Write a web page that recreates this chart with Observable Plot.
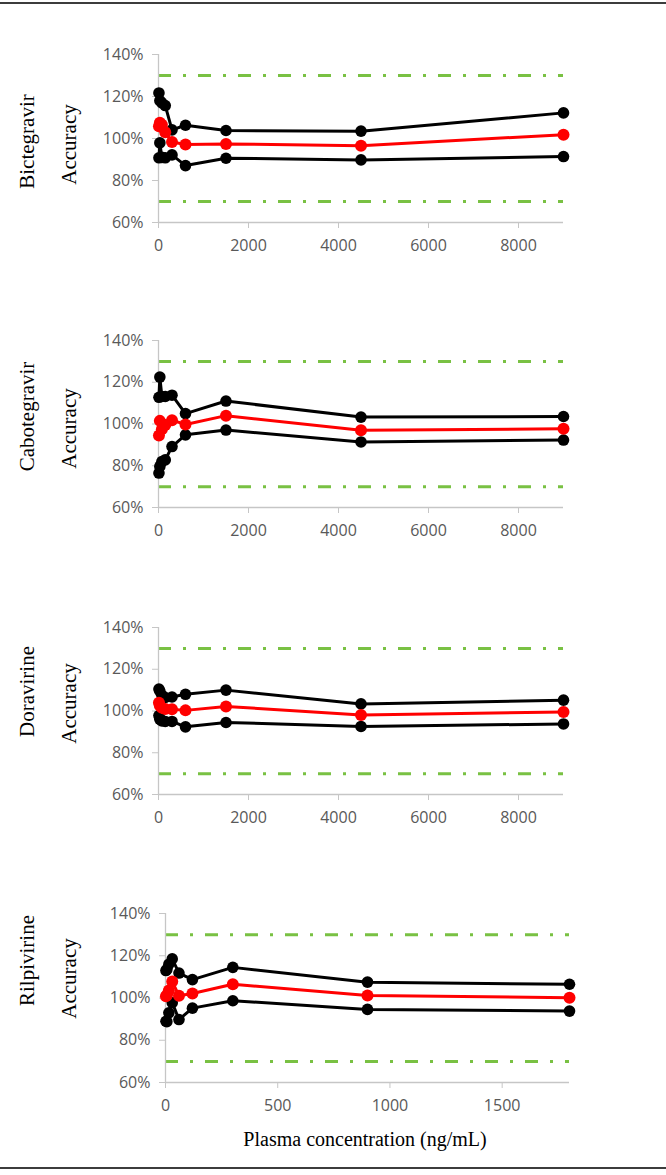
<!DOCTYPE html>
<html>
<head>
<meta charset="utf-8">
<script src="https://cdn.jsdelivr.net/npm/d3@7"></script>
<script src="https://cdn.jsdelivr.net/npm/@observablehq/plot@0.6"></script>
<style>
  html, body { margin: 0; padding: 0; background: #fff; }
  #wrap { position: relative; width: 666px; height: 1175px; overflow: hidden; background: #fff; }
  .panel { position: absolute; left: 0; }
  .panel svg { overflow: visible; }
  .rule { position: absolute; left: 0; width: 666px; height: 2px; background: #3c3c3c; }
  #xtitle { position: absolute; top: 1128px; left: 365px; transform: translateX(-50%); white-space: nowrap;
            font-family: "Liberation Serif", "Times New Roman", serif; font-size: 20px; color: #000; }
</style>
</head>
<body>
<div id="wrap">
  <div class="rule" style="top:2px"></div>
  <div id="xtitle">Plasma concentration (ng/mL)</div>
  <div class="rule" style="top:1167px"></div>
</div>
<script>
// ---- data ----
const drugNames = ["Bictegravir", "Cabotegravir", "Doravirine", "Rilpivirine"];
const yLabel = "Accuracy";
const xTitle = "Plasma concentration (ng/mL)";
const concStd = [10, 30, 75, 150, 300, 600, 1500, 4500, 9000];      // ng/mL (BIC, CAB, DOR)
const concRpv = [2, 6, 15, 30, 60, 120, 300, 900, 1800];            // ng/mL (RPV)

const bicMax  = [121.7, 118.0, 117.0, 115.7, 104.1, 106.3, 103.8, 103.5, 112.2];
const bicMean = [105.8, 107.5, 106.5, 103.0, 98.3, 97.1, 97.4, 96.6, 101.8];
const bicMin  = [90.8, 97.9, 91.0, 90.8, 92.2, 87.1, 90.6, 89.8, 91.4];

const cabMax  = [112.8, 122.5, 113.2, 113.2, 113.8, 105.0, 111.0, 103.3, 103.6];
const cabMean = [94.5, 101.5, 97.5, 99.5, 101.8, 99.8, 104.0, 97.0, 97.7];
const cabMin  = [76.5, 79.7, 82.0, 82.8, 89.2, 94.8, 97.1, 91.4, 92.3];

const dorMax  = [110.5, 109.5, 107.5, 106.5, 106.7, 108.0, 110.0, 103.4, 105.2];
const dorMean = [104.0, 102.5, 101.5, 101.0, 100.8, 100.3, 102.2, 98.1, 99.5];
const dorMin  = [97.8, 96.0, 95.2, 95.0, 95.0, 92.4, 94.5, 92.6, 93.8];

const rpvMax  = [113.0, 113.5, 116.0, 118.5, 111.8, 108.7, 114.5, 107.5, 106.5];
const rpvMean = [100.8, 101.3, 103.5, 107.8, 101.1, 102.1, 106.5, 101.2, 100.1];
const rpvMin  = [89.0, 88.8, 93.0, 97.8, 89.8, 95.2, 98.7, 94.6, 93.8];

const limits = [70, 130];                 // acceptance limits (%)
const yTicks = [60, 80, 100, 120, 140];   // %
const xTicksStd = [0, 2000, 4000, 6000, 8000];
const xTicksRpv = [0, 500, 1000, 1500];

// ---- layout ----
const panels = [
  {name: drugNames[0], conc: concStd, max: bicMax, mean: bicMean, min: bicMin, xMax: 9000, xTicks: xTicksStd,
   top: 40, span: 168, ml: 158, mr: 103, nameY: 141, accY: 144},
  {name: drugNames[1], conc: concStd, max: cabMax, mean: cabMean, min: cabMin, xMax: 9000, xTicks: xTicksStd,
   top: 326, span: 167, ml: 158, mr: 103, nameY: 416, accY: 428},
  {name: drugNames[2], conc: concStd, max: dorMax, mean: dorMean, min: dorMin, xMax: 9000, xTicks: xTicksStd,
   top: 613, span: 167, ml: 158, mr: 103, nameY: 691, accY: 703},
  {name: drugNames[3], conc: concRpv, max: rpvMax, mean: rpvMean, min: rpvMin, xMax: 1800, xTicks: xTicksRpv,
   top: 899, span: 169, ml: 165, mr: 97, nameY: 960, accY: 978}
];

const MT = 14, MB = 40;
const axisGray = "#c6c6c6", labelGray = "#595959", green = "#79c143";

function series(conc, vals) { return conc.map((c, i) => ({c, v: vals[i]})); }

const wrap = document.getElementById("wrap");
for (const p of panels) {
  const frameMid = p.top + MT + p.span / 2;
  const serifText = {frameAnchor: "left", textAnchor: "middle", rotate: -90,
                     fontFamily: "Liberation Serif, Times New Roman, serif",
                     fontSize: 21, fill: "#000", text: d => d};
  const chart = Plot.plot({
    width: 666, height: MT + p.span + MB,
    marginTop: MT, marginBottom: MB, marginLeft: p.ml, marginRight: p.mr,
    style: {background: "transparent", fontFamily: "Open Sans, Liberation Sans, sans-serif", fontSize: "16px", color: labelGray, overflow: "visible"},
    x: {domain: [0, p.xMax], label: null},
    y: {domain: [60, 140], label: null},
    marks: [
      Plot.ruleY(limits, {stroke: green, strokeWidth: 3, strokeDasharray: "13,12,3,12"}),
      Plot.ruleX([0], {stroke: axisGray, strokeWidth: 1.3}),
      Plot.ruleY([60], {stroke: axisGray, strokeWidth: 1.3}),
      Plot.axisY({ticks: yTicks, tickSize: 6, tickPadding: 9, stroke: axisGray, fill: labelGray,
                  tickFormat: d => d + "%", label: null}),
      Plot.axisX({ticks: p.xTicks, tickSize: 6, tickPadding: 11, stroke: axisGray, fill: labelGray,
                  tickFormat: d => String(d), label: null}),
      Plot.line(series(p.conc, p.max), {x: "c", y: "v", stroke: "#000", strokeWidth: 3}),
      Plot.dot(series(p.conc, p.max), {x: "c", y: "v", r: 5.8, fill: "#000"}),
      Plot.line(series(p.conc, p.min), {x: "c", y: "v", stroke: "#000", strokeWidth: 3}),
      Plot.dot(series(p.conc, p.min), {x: "c", y: "v", r: 5.8, fill: "#000"}),
      Plot.line(series(p.conc, p.mean), {x: "c", y: "v", stroke: "#ff0000", strokeWidth: 3}),
      Plot.dot(series(p.conc, p.mean), {x: "c", y: "v", r: 6, fill: "#ff0000"}),
      Plot.text([p.name], {...serifText, dx: 27 - p.ml, dy: p.nameY - frameMid}),
      Plot.text([yLabel], {...serifText, dx: 69 - p.ml, dy: p.accY - frameMid})
    ]
  });
  const holder = document.createElement("div");
  holder.className = "panel";
  holder.style.top = p.top + "px";
  holder.appendChild(chart);
  wrap.appendChild(holder);
}
</script>
</body>
</html>
